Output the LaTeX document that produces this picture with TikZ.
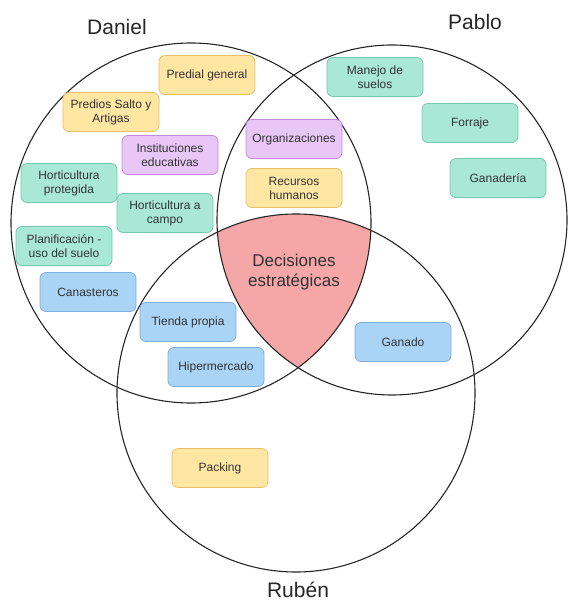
\documentclass[tikz,border=0pt]{standalone}
\usepackage{fontspec}
\setmainfont{Liberation Sans}
\usepackage{tikz}
\usetikzlibrary{positioning}
\definecolor{Leaf}{HTML}{A8E8D4}
\definecolor{LeafLine}{HTML}{78C8AE}
\definecolor{Sand}{HTML}{FFE6A3}
\definecolor{SandLine}{HTML}{E6C266}
\definecolor{Lilac}{HTML}{E8C6F6}
\definecolor{LilacLine}{HTML}{C28CDA}
\definecolor{Sky}{HTML}{AAD4F6}
\definecolor{SkyLine}{HTML}{7DAEDE}
\definecolor{Coral}{HTML}{F5A6A6}
\definecolor{Ink}{HTML}{333333}

\begin{document}
\begin{tikzpicture}[
    x=1pt, y=-1pt,
    every node/.style={font=\fontsize{12}{14}\selectfont, text=Ink},
    item/.style={rounded corners=6pt, line width=0.8pt, minimum width=96pt,
        minimum height=39pt, align=center, inner sep=2pt},
    greenitem/.style={item, fill=Leaf, draw=LeafLine},
    yellowitem/.style={item, fill=Sand, draw=SandLine},
    purpleitem/.style={item, fill=Lilac, draw=LilacLine},
    blueitem/.style={item, fill=Sky, draw=SkyLine},
    setline/.style={draw=black!85, line width=1.1pt},
    setname/.style={font=\fontsize{21}{24}\selectfont, text=black!85}
]
\useasboundingbox (0,0) rectangle (568,601);

% === Common core (all three sets) ===
\begin{scope}
    \clip (191,223) circle (180);
    \clip (392,220) circle (175);
    \fill[Coral] (296,393) circle (179);
\end{scope}

% === Sets ===
\draw[setline] (191,223) circle (180);
\draw[setline] (392,220) circle (175);
\draw[setline] (296,393) circle (179);

\node[setname] (daniel) at (117,27) {Daniel};
\node[setname] (pablo) at (475,22) {Pablo};
\node[setname] (ruben) at (298,590) {Rubén};

\node[font=\fontsize{17}{20}\selectfont, align=center] (core) at (294,272) {Decisiones\\estratégicas};

% Daniel only
\node[yellowitem] (predial) at (207,75) {Predial general};
\node[yellowitem] (predios) at (111,112) {Predios Salto y\\Artigas};
\node[purpleitem] (instit) at (170,155) {Instituciones\\educativas};
\node[greenitem] (hortprot) at (69,183) {Horticultura\\protegida};
\node[greenitem] (hortcamp) at (165,213) {Horticultura a\\campo};
\node[greenitem] (planif) at (64,246) {Planificación -\\uso del suelo};
\node[blueitem] (canast) at (88,292) {Canasteros};

% Daniel and Pablo
\node[purpleitem] (organiz) at (294,139) {Organizaciones};
\node[yellowitem] (recursos) at (294,188) {Recursos\\humanos};

% Pablo only
\node[greenitem] (manejo) at (375,77) {Manejo de\\suelos};
\node[greenitem] (forraje) at (470,123) {Forraje};
\node[greenitem] (ganaderia) at (498,178) {Ganadería};

% Daniel and Rubén
\node[blueitem] (tienda) at (188,322) {Tienda propia};
\node[blueitem] (hiper) at (216,367) {Hipermercado};

% Pablo and Rubén
\node[blueitem] (ganado) at (403,342) {Ganado};

% Rubén only
\node[yellowitem] (packing) at (220,468) {Packing};

\end{tikzpicture}
\end{document}
